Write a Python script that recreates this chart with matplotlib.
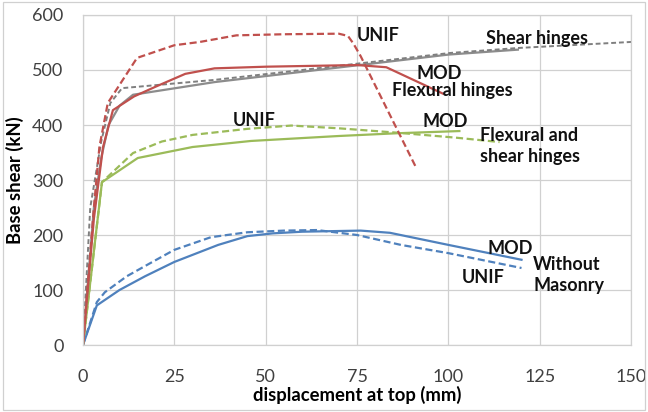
import matplotlib
matplotlib.use("Agg")
import matplotlib.pyplot as plt
from matplotlib.patches import Rectangle

plt.rcParams['font.family'] = ['Lato', 'DejaVu Sans']

# Flexural hinges
flex_unif_x = [0, 3, 4.5, 6.8, 14.8, 25, 32, 42, 55, 70, 72.5, 74, 76, 91.2]
flex_unif_y = [0, 250, 360, 440, 522, 545, 551, 563, 565, 566, 562, 548, 525, 322]
flex_mod_x = [0, 3, 5.5, 8.2, 14, 20, 28, 36, 50, 75, 83, 98.5]
flex_mod_y = [0, 230, 360, 427, 452, 470, 493, 503, 506, 509, 505, 457]

# Shear hinges
shear_unif_x = [0, 2, 5, 7.5, 10.7, 36, 60, 100.5, 119, 150]
shear_unif_y = [0, 250, 370, 440, 467, 482, 500, 531, 540, 551]
shear_mod_x = [0, 3, 5, 7, 10, 13.7, 36, 100, 119]
shear_mod_y = [0, 250, 340, 400, 435, 455, 478, 528, 537]

# Flexural and shear hinges
fs_unif_x = [0, 5.2, 13.7, 21.6, 30, 45, 57, 70, 86, 102, 114]
fs_unif_y = [0, 296, 349, 370, 382, 393, 399, 394, 386, 377, 369]
fs_mod_x = [0, 5.2, 15, 30, 46, 70, 86, 103]
fs_mod_y = [0, 296, 340, 360, 371, 380, 385, 389]

# Without masonry
wm_unif_x = [0, 3.8, 6, 12, 19, 25, 35, 45, 55, 64, 75, 87, 100, 120]
wm_unif_y = [0, 78, 96, 125, 151, 173, 196, 205, 208, 209, 200, 182, 167, 140]
wm_mod_x = [0, 3.8, 10, 17, 25, 37, 45, 52, 60, 76, 84, 100, 120]
wm_mod_y = [0, 72, 100, 125, 151, 182, 198, 203, 206, 208, 204, 182, 155]

x_ticks = [0, 25, 50, 75, 100, 125, 150]
y_ticks = [0, 100, 200, 300, 400, 500, 600]

RED = '#C0504D'
GREEN = '#9BBB59'
BLUE = '#4F81BD'
GRAY = '#8C8C8C'

fig = plt.figure(figsize=(6.48, 4.12), dpi=100)
ax = fig.add_axes([0.128, 0.1626, 0.846, 0.801])

lw = 1.6
dash = (3.2, 1.6)
ax.plot(wm_mod_x, wm_mod_y, color=BLUE, lw=lw)
ax.plot(wm_unif_x, wm_unif_y, color=BLUE, lw=lw, ls=(0, dash))
ax.plot(fs_mod_x, fs_mod_y, color=GREEN, lw=lw)
ax.plot(fs_unif_x, fs_unif_y, color=GREEN, lw=lw, ls=(0, dash))
ax.plot(shear_mod_x, shear_mod_y, color=GRAY, lw=lw)
ax.plot(shear_unif_x, shear_unif_y, color='#7F7F7F', lw=1.4, ls=(0, (2.5, 1.5)))
ax.plot(flex_mod_x, flex_mod_y, color=RED, lw=lw)
ax.plot(flex_unif_x, flex_unif_y, color=RED, lw=lw, ls=(0, dash))

ax.set_xlim(0, 150)
ax.set_ylim(0, 600)
ax.set_xticks(x_ticks)
ax.set_yticks(y_ticks)
ax.tick_params(length=0, labelsize=13, colors='#404040')
ax.tick_params(axis='y', pad=14)
ax.tick_params(axis='x', pad=17)
ax.grid(True, color='#D0D0D0', lw=0.9)
ax.set_axisbelow(True)
for s in ax.spines.values():
    s.set_color('#D0D0D0')
    s.set_linewidth(0.9)

ax.set_xlabel('displacement at top (mm)', fontsize=13.3, fontweight='bold', labelpad=1)
ax.set_ylabel('Base shear (kN)', fontsize=13.3, fontweight='bold', labelpad=6)

tk = dict(fontsize=13, fontweight='bold', color='#111111', va='center', ha='left')
ax.text(75, 563, 'UNIF', **tk)
ax.text(110.3, 557, 'Shear hinges', **tk)
ax.text(91.4, 494, 'MOD', **tk)
ax.text(84.6, 462, 'Flexural hinges', **tk)
ax.text(41, 409, 'UNIF', **tk)
ax.text(93, 406, 'MOD', **tk)
ax.text(108.7, 362, 'Flexural and\nshear hinges', linespacing=1.25, **tk)
ax.text(110.6, 176, 'MOD', **tk)
ax.text(123.2, 127, 'Without\nMasonry', linespacing=1.25, **tk)
ax.text(103.7, 122, 'UNIF', **tk)

fig.patches.append(Rectangle((0.004, 0.004), 0.992, 0.992, transform=fig.transFigure,
                             fill=False, edgecolor='#D0D0D0', lw=0.9))

fig.savefig('out.png', dpi=100)
